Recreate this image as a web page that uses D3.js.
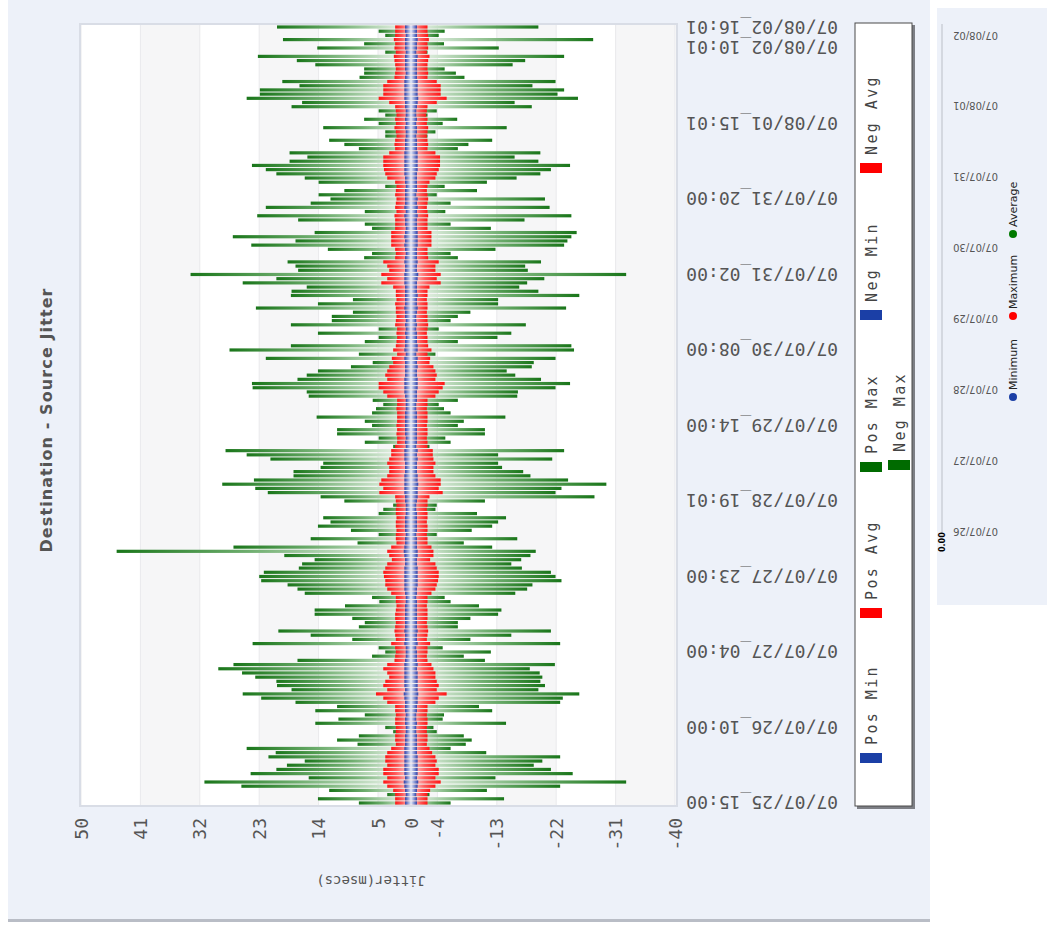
<!DOCTYPE html>
<html>
<head>
<meta charset="utf-8">
<script src="https://cdn.jsdelivr.net/npm/d3@7"></script>
<style>
  body { margin: 0; background: #fff; }
  svg { display: block; }
</style>
</head>
<body>
<div id="chart"></div>
<script>
// Jitter per time slot, newest slot first (top row of the chart)
const posMax = [
  20.3, 4.9, 3.9, 19.4, 7.1, 14.2, 3.9, 23.2, 17.3, 14.5, 7.1, 7.1, 7.8, 19.5, 16.9, 22.9, 22.9, 24.9, 16.5, 18.1,
  4.9, 3.9, 7.1, 4.9, 13.3, 3.9, 3.9, 12.4, 10.1, 7.9, 18.4, 15.7, 18.4, 24.1, 22.0, 20.4, 16.1, 14.0, 3.9, 10.1,
  14.0, 12.2, 15.2, 22.0, 7.0, 23.3, 17.1,
  7.0, 5.9, 14.6, 27.0, 17.5, 24.2, 12.6, 5.9, 7.1, 18.7, 17.5, 17.1, 33.4, 20.4, 25.5, 15.8, 18.1, 18.2, 8.8, 14.1,
  23.5, 8.8, 12.0, 12.0, 18.2, 4.9, 14.1, 4.9, 7.0, 18.2, 27.5, 7.9, 22.0, 5.8, 9.1, 14.1, 15.8, 17.2, 24.1, 24.0,
  15.8, 15.5, 5.8, 4.2, 5.3, 5.9,
  14.3, 7.0, 5.9, 11.2, 11.2, 4.9, 7.0, 2.7, 28.1, 24.9, 21.3, 13.3, 13.7, 17.8, 17.8, 23.8, 28.6, 23.6, 21.7, 13.7,
  10.1, 2.7, 4.2, 4.9, 13.3, 12.2, 14.1, 9.1, 4.9, 15.2, 8.1, 26.9, 44.6, 19.2, 14.6, 16.5, 17.0, 22.3, 23.0, 22.7,
  18.7, 17.2, 16.1, 5.9, 4.8, 10.0, 14.6,
  14.6, 8.9, 7.0, 7.9, 20.1, 15.2, 8.9, 24.0, 4.9, 3.9, 5.9, 17.2, 26.9, 29.2, 25.6, 23.6, 20.4, 20.3, 18.1, 25.5,
  22.7, 17.5, 11.2, 14.5, 7.0, 11.0, 14.5, 3.9, 2.7, 7.9, 11.2, 8.1, 24.9, 20.5, 21.6, 16.1, 18.8, 20.4, 24.3, 15.5,
  31.3, 25.7, 12.4, 3.6, 14.1, 7.9
];
const negMax = [
  19.3, 5.1, 4.2, 27.6, 5.0, 13.3, 2.5, 23.2, 17.3, 15.4, 5.1, 6.8, 8.1, 21.9, 18.4, 23.2, 22.2, 25.3, 15.7, 18.3,
  3.9, 2.5, 7.0, 4.8, 14.5, 3.7, 2.5, 12.3, 8.7, 7.1, 19.6, 15.7, 19.3, 24.1, 21.2, 19.6, 16.0, 11.5, 5.1, 10.0,
  3.9, 20.3, 6.0, 21.0, 5.2, 24.3, 17.2,
  6.0, 12.1, 25.1, 24.3, 23.7, 23.2, 12.8, 6.0, 7.1, 19.7, 17.3, 17.7, 32.6, 20.2, 17.6, 16.4, 19.3, 25.5, 13.2, 13.2,
  23.5, 9.0, 7.1, 6.0, 17.4, 4.2, 15.2, 13.1, 7.1, 24.3, 24.7, 3.7, 21.9, 18.6, 18.3, 14.5, 15.8, 19.7, 24.1, 21.9,
  16.2, 16.1, 7.1, 4.2, 5.0, 6.0,
  14.3, 8.0, 7.1, 11.2, 11.2, 5.2, 6.0, 2.8, 23.2, 13.2, 21.4, 13.2, 13.8, 17.0, 18.1, 23.8, 29.6, 22.8, 21.9, 27.8,
  11.2, 3.9, 3.7, 10.0, 14.4, 13.2, 12.3, 9.2, 3.9, 16.1, 8.0, 12.3, 18.9, 18.1, 16.7, 15.2, 16.8, 21.2, 21.9, 22.8,
  18.4, 17.6, 15.8, 5.1, 6.0, 10.3, 13.7,
  13.2, 9.0, 7.1, 7.1, 21.2, 15.2, 9.0, 22.6, 4.8, 12.1, 8.0, 11.2, 21.8, 18.0, 19.5, 19.9, 19.6, 20.3, 19.3, 25.5,
  23.0, 22.6, 10.3, 12.3, 5.0, 4.8, 14.4, 3.4, 3.9, 8.0, 9.2, 8.3, 6.0, 11.4, 22.6, 19.9, 18.6, 21.2, 24.5, 12.8,
  32.6, 22.6, 11.5, 2.8, 14.1, 6.0
];
const posAvg = [
  2.4, 2.4, 2.4, 2.6, 2.4, 2.5, 2.3, 2.6, 2.5, 2.4, 2.3, 2.4, 2.5, 3.6, 4.2, 4.2, 4.2, 4.9, 3.3, 2.4,
  2.3, 2.2, 2.4, 2.3, 2.5, 2.3, 2.2, 2.4, 2.5, 2.4, 3.3, 4.2, 4.2, 4.2, 4.1, 3.9, 3.6, 2.4, 2.2, 2.3,
  2.4, 2.2, 2.3, 2.4, 2.2, 2.5, 2.4,
  2.4, 2.4, 3.0, 3.0, 3.0, 3.0, 2.4, 2.3, 2.4, 4.2, 3.6, 3.3, 4.5, 3.6, 4.5, 2.7, 2.3, 2.3, 2.2, 2.4,
  2.3, 2.3, 2.2, 2.3, 2.4, 2.1, 2.2, 2.1, 2.2, 2.3, 2.7, 2.1, 2.9, 2.7, 3.3, 3.6, 3.9, 3.6, 4.9, 4.9,
  4.2, 3.6, 2.1, 2.1, 2.2, 2.1,
  2.1, 2.1, 2.2, 2.1, 2.2, 2.1, 2.1, 2.4, 3.0, 3.0, 3.3, 3.6, 3.3, 3.3, 3.6, 4.5, 4.8, 4.2, 4.8, 2.4,
  2.3, 2.2, 2.3, 2.3, 2.2, 2.3, 2.3, 2.2, 2.3, 2.3, 2.2, 3.0, 3.6, 3.3, 2.9, 3.6, 3.9, 4.2, 4.1, 3.9,
  3.9, 3.6, 3.0, 2.3, 2.3, 2.2, 2.3,
  2.4, 2.4, 2.3, 2.4, 2.5, 2.4, 2.3, 3.0, 2.4, 2.3, 2.4, 2.5, 3.6, 4.2, 3.6, 3.3, 3.9, 4.2, 3.6, 5.3,
  4.2, 3.6, 2.4, 2.4, 2.3, 2.4, 2.4, 2.3, 2.3, 2.4, 2.4, 2.3, 3.0, 3.6, 3.9, 3.9, 3.6, 4.2, 4.2, 3.6,
  4.2, 3.6, 2.7, 2.4, 2.4, 2.4
];
const negAvg = [
  2.5, 2.5, 2.6, 2.7, 2.5, 2.6, 2.4, 2.8, 2.6, 2.5, 2.5, 2.6, 2.5, 3.9, 4.5, 4.5, 4.5, 5.4, 3.9, 2.5,
  2.4, 2.3, 2.5, 2.4, 2.6, 2.5, 2.4, 2.5, 2.6, 2.5, 3.7, 4.4, 4.4, 4.4, 4.2, 3.9, 3.7, 2.8, 2.5, 2.4,
  2.5, 2.6, 2.5, 2.4, 2.5, 2.6, 2.5,
  2.5, 2.5, 3.1, 3.1, 3.1, 3.1, 2.5, 2.5, 2.6, 4.2, 3.7, 3.7, 4.5, 3.9, 4.5, 2.8, 2.5, 2.5, 2.4, 2.5,
  2.5, 2.4, 2.5, 2.5, 2.6, 2.5, 2.4, 2.5, 2.5, 2.6, 3.1, 2.5, 2.9, 2.8, 3.4, 3.7, 3.9, 3.7, 5.1, 4.8,
  4.2, 3.7, 2.5, 2.5, 2.4, 2.5,
  2.5, 2.5, 2.4, 2.5, 2.5, 2.4, 2.5, 2.5, 3.3, 3.3, 3.4, 3.7, 3.4, 3.4, 3.7, 4.5, 4.5, 4.2, 4.8, 2.8,
  2.5, 2.5, 2.4, 2.5, 2.5, 2.4, 2.5, 2.5, 2.4, 2.5, 2.5, 3.1, 3.4, 3.4, 2.9, 3.7, 3.9, 4.2, 4.2, 4.1,
  3.9, 3.7, 3.1, 2.5, 2.5, 2.4, 2.5,
  2.5, 2.5, 2.4, 2.5, 2.6, 2.5, 2.4, 2.9, 2.5, 2.5, 2.4, 2.5, 3.1, 3.4, 3.7, 3.7, 3.9, 4.2, 3.9, 5.4,
  4.2, 3.7, 2.5, 2.5, 2.4, 2.5, 2.5, 2.4, 2.4, 2.5, 2.5, 2.4, 2.8, 3.2, 3.7, 3.9, 3.7, 4.2, 4.2, 3.7,
  4.5, 3.7, 2.9, 2.5, 2.5, 2.5
];
const posMin = [
  0.9, 0.9, 0.8, 0.9, 0.9, 0.9, 0.8, 0.9, 0.9, 0.9, 0.9, 0.8, 0.9, 1.0, 1.0, 1.0, 1.0, 1.0, 0.9, 0.9,
  0.8, 0.8, 0.9, 0.8, 0.9, 0.8, 0.8, 0.9, 0.9, 0.9, 1.0, 1.0, 1.0, 1.0, 1.0, 1.0, 0.9, 0.9, 0.8, 0.9,
  0.9, 0.9, 0.9, 1.0, 0.8, 1.0, 0.9,
  0.9, 0.8, 0.9, 1.0, 0.9, 1.0, 0.9, 0.8, 0.9, 1.0, 0.9, 0.9, 1.0, 1.0, 1.0, 0.9, 0.9, 0.9, 0.9, 0.9,
  1.0, 0.9, 0.9, 0.8, 0.9, 0.8, 0.9, 0.8, 0.9, 0.9, 1.0, 0.8, 1.0, 0.9, 0.9, 0.9, 0.9, 1.0, 1.0, 1.0,
  1.0, 0.9, 0.8, 0.8, 0.8, 0.9,
  0.9, 0.9, 0.9, 0.9, 0.9, 0.8, 0.9, 0.8, 1.0, 1.0, 1.0, 0.9, 0.9, 0.9, 1.0, 1.0, 1.0, 1.0, 1.0, 0.9,
  0.9, 0.8, 0.8, 0.8, 0.9, 0.9, 0.9, 0.9, 0.8, 0.9, 0.9, 1.0, 1.1, 1.0, 0.9, 0.9, 1.0, 1.0, 1.0, 1.0,
  1.0, 1.0, 0.9, 0.8, 0.8, 0.9, 0.9,
  0.9, 0.9, 0.9, 0.9, 1.0, 0.9, 0.9, 1.0, 0.8, 0.8, 0.8, 0.9, 1.0, 1.0, 1.0, 1.0, 1.0, 1.0, 0.9, 1.1,
  1.0, 0.9, 0.9, 0.9, 0.8, 0.9, 0.9, 0.8, 0.8, 0.9, 0.9, 0.9, 1.0, 1.0, 1.0, 1.0, 1.0, 1.0, 1.0, 0.9,
  1.1, 1.0, 0.9, 0.8, 0.9, 0.9
];
const negMin = [
  0.9, 0.9, 0.9, 1.0, 0.9, 0.9, 0.8, 1.0, 0.9, 0.9, 0.9, 0.9, 0.9, 1.0, 1.0, 1.0, 1.0, 1.1, 1.0, 0.9,
  0.8, 0.8, 0.9, 0.8, 0.9, 0.9, 0.8, 0.9, 0.9, 0.9, 1.0, 1.0, 1.0, 1.0, 1.0, 0.9, 0.9, 0.9, 0.9, 0.9,
  0.8, 1.0, 0.9, 1.0, 0.9, 1.0, 0.9,
  0.9, 0.9, 1.0, 1.0, 1.0, 1.0, 0.9, 0.9, 0.9, 1.0, 0.9, 0.9, 1.1, 1.0, 0.9, 0.9, 0.9, 1.0, 0.9, 0.9,
  1.0, 0.9, 0.8, 0.8, 0.9, 0.8, 0.9, 0.9, 0.9, 1.0, 1.0, 0.8, 1.0, 0.9, 1.0, 0.9, 0.9, 1.0, 1.0, 1.0,
  0.9, 0.9, 0.9, 0.8, 0.8, 0.9,
  0.9, 0.9, 0.9, 0.9, 0.9, 0.9, 0.9, 0.8, 1.0, 0.9, 1.0, 0.9, 0.9, 0.9, 1.0, 1.0, 1.1, 1.0, 1.0, 1.0,
  0.9, 0.8, 0.8, 0.9, 0.9, 0.9, 0.9, 0.9, 0.8, 0.9, 0.9, 0.9, 1.0, 1.0, 0.9, 0.9, 1.0, 1.0, 1.0, 1.0,
  1.0, 0.9, 0.9, 0.8, 0.9, 0.9, 0.9,
  0.9, 0.9, 0.9, 0.9, 1.0, 0.9, 0.9, 1.0, 0.8, 0.9, 0.9, 0.9, 1.0, 0.9, 1.0, 1.0, 1.0, 1.0, 1.0, 1.1,
  1.0, 1.0, 0.9, 0.9, 0.8, 0.8, 0.9, 0.8, 0.8, 0.9, 0.9, 0.9, 0.9, 0.9, 1.0, 1.0, 1.0, 1.0, 1.0, 0.9,
  1.1, 1.0, 0.9, 0.8, 0.9, 0.9
];

// value axis ticks and slot labels (index counted from the newest slot)
const valueTicks = [50, 41, 32, 23, 14, 5, 0, -4, -13, -22, -31, -40];
const labelSlots = [0, 5, 23, 41, 59, 77, 95, 113, 131, 149, 167, 185];
const labelTexts = ["07/08/02_16:01", "07/08/02_10:01", "07/08/01_15:01", "07/07/31_20:00",
                    "07/07/31_02:00", "07/07/30_08:00", "07/07/29_14:00", "07/07/28_19:01",
                    "07/07/27_23:00", "07/07/27_04:00", "07/07/26_10:00", "07/07/25_15:00"];
const legendNames = ["Pos Min", "Pos Avg", "Pos Max", "Neg Max", "Neg Min", "Neg Avg"];
const legendColors = ["#1b3fa6", "#ff0000", "#006b00", "#006b00", "#1b3fa6", "#ff0000"];

// the small overview panel on the right
const overviewDays = ["07/08/02", "07/08/01", "07/07/31", "07/07/30", "07/07/29", "07/07/28", "07/07/27", "07/07/26"];
const overviewNames = ["Average", "Maximum", "Minimum"];
const overviewColors = ["#007a00", "#ff0000", "#1b3fa6"];

const mono = "'DejaVu Sans Mono', monospace";
const sans = "'DejaVu Sans', Verdana, sans-serif";

const svg = d3.select("#chart").append("svg")
    .attr("width", 1047)
    .attr("height", 927);
const defs = svg.append("defs");

// background panels
svg.append("rect").attr("x", 8).attr("y", 0).attr("width", 922).attr("height", 919).attr("fill", "#edf1f9");
svg.append("rect").attr("x", 8).attr("y", 919).attr("width", 922).attr("height", 3).attr("fill", "#b9bdc6");
svg.append("rect").attr("x", 937).attr("y", 8).attr("width", 110).attr("height", 597).attr("fill", "#edf1f9");

// scales: value runs horizontally (50 on the left), slots run top to bottom
const x = d3.scaleLinear().domain([50, -40]).range([81, 675]);
const y = d3.scaleBand()
    .domain(d3.range(posMax.length))
    .range([25, 805])
    .paddingInner(0.24)
    .paddingOuter(0.1);

// plot area with alternating bands
svg.append("rect")
   .attr("x", 80).attr("y", 24).attr("width", 597).attr("height", 782)
   .attr("fill", "#ffffff");

const stepTicks = valueTicks.filter(v => v !== 0);
for (let i = 0; i < stepTicks.length - 1; i++) {
    if (i % 2 === 1) {
        svg.append("rect")
           .attr("x", x(stepTicks[i]))
           .attr("y", 25)
           .attr("width", x(stepTicks[i + 1]) - x(stepTicks[i]))
           .attr("height", 780)
           .attr("fill", "#f6f6f7");
    }
}
svg.selectAll("line.grid")
   .data(valueTicks)
   .enter().append("line")
   .attr("class", "grid")
   .attr("x1", d => x(d)).attr("x2", d => x(d))
   .attr("y1", 25).attr("y2", 805)
   .attr("stroke", "#e9e9ec")
   .attr("stroke-width", 1);

// gradients: dark at the tip of the bar, fading toward zero
function gradient(id, tip, mid, end, tipOnLeft) {
    const g = defs.append("linearGradient").attr("id", id)
        .attr("x1", tipOnLeft ? 0 : 1).attr("x2", tipOnLeft ? 1 : 0)
        .attr("y1", 0).attr("y2", 0);
    g.append("stop").attr("offset", "0%").attr("stop-color", tip);
    g.append("stop").attr("offset", "45%").attr("stop-color", mid);
    g.append("stop").attr("offset", "100%").attr("stop-color", end);
}
gradient("gL", "#1a761a", "#6fae6f", "#f7fbf7", true);
gradient("gR", "#1a761a", "#6fae6f", "#f7fbf7", false);
gradient("rL", "#ff1414", "#ff5a5a", "#ffe4e4", true);
gradient("rR", "#ff1414", "#ff5a5a", "#ffe4e4", false);
gradient("bL", "#2a3fa8", "#7e8fd0", "#e6eaf8", true);
gradient("bR", "#2a3fa8", "#7e8fd0", "#e6eaf8", false);

function drawBars(values, side, fill) {
    svg.append("g").selectAll("rect")
       .data(values)
       .enter().append("rect")
       .attr("x", d => side < 0 ? x(d) : x(0))
       .attr("y", (d, i) => y(i))
       .attr("width", d => side < 0 ? x(0) - x(d) : x(-d) - x(0))
       .attr("height", y.bandwidth())
       .attr("fill", fill);
}
drawBars(posMax, -1, "url(#gL)");
drawBars(negMax, 1, "url(#gR)");
drawBars(posAvg, -1, "url(#rL)");
drawBars(negAvg, 1, "url(#rR)");
drawBars(posMin, -1, "url(#bL)");
drawBars(negMin, 1, "url(#bR)");

// plot frame
svg.append("rect")
   .attr("x", 80).attr("y", 24).attr("width", 597).attr("height", 782)
   .attr("fill", "none")
   .attr("stroke", "#d9dde6")
   .attr("stroke-width", 2);

// value tick labels, turned to read bottom-up
svg.selectAll("text.vtick")
   .data(valueTicks)
   .enter().append("text")
   .attr("class", "vtick")
   .attr("transform", d => `translate(${x(d)},818) rotate(-90)`)
   .attr("text-anchor", "end")
   .attr("dominant-baseline", "central")
   .style("font-family", mono)
   .style("font-size", "18px")
   .attr("fill", "#555")
   .text(d => d);

// slot labels, upside down
svg.selectAll("text.slot")
   .data(labelSlots)
   .enter().append("text")
   .attr("class", "slot")
   .attr("transform", d => `translate(838,${y(d) + y.bandwidth() / 2}) rotate(180)`)
   .attr("text-anchor", "start")
   .attr("dominant-baseline", "central")
   .style("font-family", mono)
   .style("font-size", "18px")
   .attr("fill", "#555")
   .text((d, i) => labelTexts[i]);

// axis title and chart title
svg.append("text")
   .attr("transform", "translate(371,881) rotate(180)")
   .attr("text-anchor", "middle")
   .attr("dominant-baseline", "central")
   .style("font-family", mono)
   .style("font-size", "14px")
   .attr("fill", "#555")
   .text("Jitter(msecs)");

svg.append("text")
   .attr("transform", "translate(46,420) rotate(-90)")
   .attr("text-anchor", "middle")
   .attr("dominant-baseline", "central")
   .style("font-family", sans)
   .style("font-size", "16px")
   .style("font-weight", "bold")
   .style("letter-spacing", "1.1px")
   .attr("fill", "#555")
   .text("Destination - Source Jitter");

// legend box
svg.append("rect").attr("x", 857).attr("y", 25).attr("width", 58).attr("height", 784).attr("fill", "#7d7f85");
svg.append("rect").attr("x", 855).attr("y", 23).attr("width", 57).attr("height", 783)
   .attr("fill", "#ffffff").attr("stroke", "#4a4a4a").attr("stroke-width", 1);

const legendCol = [0, 0, 0, 1, 0, 0];
const legendTop = [753, 608, 462, 460, 310, 163];
legendNames.forEach((name, i) => {
    const lx = 860 + legendCol[i] * 28;
    svg.append("rect")
       .attr("x", lx).attr("y", legendTop[i])
       .attr("width", 22).attr("height", 10)
       .attr("fill", legendColors[i]);
    svg.append("text")
       .attr("transform", `translate(${lx + 12},${legendTop[i] - 8}) rotate(-90)`)
       .attr("text-anchor", "start")
       .attr("dominant-baseline", "central")
       .style("font-family", mono)
       .style("font-size", "15px")
       .style("letter-spacing", "2.4px")
       .attr("fill", "#444")
       .text(name);
});

// overview panel: day axis and dot legend
const oy = d3.scalePoint().domain(overviewDays).range([35, 531]);
svg.append("line")
   .attr("x1", 942).attr("x2", 942).attr("y1", 24).attr("y2", 533)
   .attr("stroke", "#d4d8e0").attr("stroke-width", 2);
svg.selectAll("text.day")
   .data(overviewDays)
   .enter().append("text")
   .attr("class", "day")
   .attr("transform", d => `translate(998,${oy(d)}) rotate(180)`)
   .attr("text-anchor", "start")
   .attr("dominant-baseline", "central")
   .style("font-family", sans)
   .style("font-size", "10px")
   .attr("fill", "#555")
   .text(d => d);
svg.append("text")
   .attr("transform", "translate(942,552) rotate(-90)")
   .attr("text-anchor", "start")
   .attr("dominant-baseline", "central")
   .style("font-family", sans)
   .style("font-size", "8px")
   .style("font-weight", "bold")
   .attr("fill", "#000")
   .text("0.00");

const dotY = [234, 316, 397];
overviewNames.forEach((name, i) => {
    svg.append("circle").attr("cx", 1013).attr("cy", dotY[i]).attr("r", 4).attr("fill", overviewColors[i]);
    svg.append("text")
       .attr("transform", `translate(1013,${dotY[i] - 7}) rotate(-90)`)
       .attr("text-anchor", "start")
       .attr("dominant-baseline", "central")
       .style("font-family", sans)
       .style("font-size", "11px")
       .attr("fill", "#222")
       .text(name);
});
</script>
</body>
</html>
